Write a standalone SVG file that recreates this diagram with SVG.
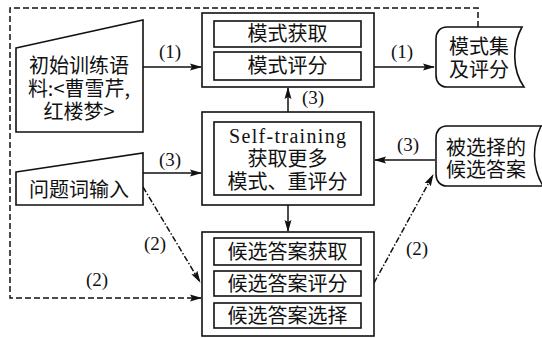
<svg xmlns="http://www.w3.org/2000/svg" width="542" height="338" viewBox="0 0 542 338">
<defs>
<marker id="ah" markerUnits="userSpaceOnUse" markerWidth="12" markerHeight="8" refX="11" refY="4" orient="auto">
<path d="M0,0.5 L12,4 L0,7.5 L2,4 Z" fill="#111"/>
</marker>
<style>
.box{fill:#fff;stroke:#111;stroke-width:1.6}
.cjk{font-family:"Noto Sans CJK SC","Noto Sans",sans-serif;font-size:20px;fill:#111;text-anchor:middle}
.lbl{font-family:"Liberation Serif",serif;font-size:19px;fill:#111;text-anchor:middle}
.ln{fill:none;stroke:#111;stroke-width:1.5}
.dash{fill:none;stroke:#111;stroke-width:1.5;stroke-dasharray:6 3}
.dd{fill:none;stroke:#111;stroke-width:1.5;stroke-dasharray:6 2 1.5 2}
</style>
</defs>
<rect width="542" height="338" fill="#fff"/>
<g id="connectors">
<path class="dash" d="M478,27 V8 H10 V298 H201" marker-end="url(#ah)"/>
<path class="ln" d="M143,67 H201" marker-end="url(#ah)"/>
<path class="ln" d="M374,67 H434" marker-end="url(#ah)"/>
<path class="ln" d="M143,173 H201" marker-end="url(#ah)"/>
<path class="ln" d="M288,112 V88" marker-end="url(#ah)"/>
<path class="ln" d="M435,160 H375" marker-end="url(#ah)"/>
<path class="ln" d="M288,205 V231" marker-end="url(#ah)"/>
<path class="dd" d="M143,187 L200,282" marker-end="url(#ah)"/>
<path class="dd" d="M374,283 L433,175" marker-end="url(#ah)"/>
<text class="lbl" x="170" y="58">(1)</text>
<text class="lbl" x="402" y="58">(1)</text>
<text class="lbl" x="170" y="166">(3)</text>
<text class="lbl" x="313" y="104">(3)</text>
<text class="lbl" x="408" y="151">(3)</text>
<text class="lbl" x="155" y="250">(2)</text>
<text class="lbl" x="97" y="286">(2)</text>
<text class="lbl" x="417" y="255">(2)</text>
</g>
<g id="corpus">
<path class="box" d="M16,48 L143,20 V132 H16 Z"/>
<text class="cjk" x="79" y="73">初始训练语</text>
<text class="cjk" x="79" y="96">料:&lt;曹雪芹,</text>
<text class="cjk" x="79" y="119">红楼梦&gt;</text>
</g>
<g id="question">
<path class="box" d="M16,172 L143,153 V205 H16 Z"/>
<text class="cjk" x="79" y="197">问题词输入</text>
</g>
<g id="pattern">
<rect class="box" x="202" y="13" width="172" height="74"/>
<rect class="box" x="214" y="21" width="147" height="26"/>
<rect class="box" x="214" y="52" width="147" height="28"/>
<text class="cjk" x="287.5" y="41">模式获取</text>
<text class="cjk" x="287.5" y="73">模式评分</text>
</g>
<g id="selftrain">
<rect class="box" x="202" y="112" width="172" height="93"/>
<rect class="box" x="214" y="122" width="147" height="73"/>
<text x="287.5" y="143" font-family="Liberation Serif,serif" font-size="20" fill="#111" text-anchor="middle" textLength="117" lengthAdjust="spacing">Self-training</text>
<text class="cjk" x="287.5" y="166">获取更多</text>
<text class="cjk" x="287.5" y="189">模式、重评分</text>
</g>
<g id="candidate">
<rect class="box" x="202" y="232" width="172" height="104"/>
<rect class="box" x="214" y="238" width="147" height="27"/>
<rect class="box" x="214" y="271" width="147" height="25"/>
<rect class="box" x="214" y="303" width="147" height="25"/>
<text class="cjk" x="287.5" y="259">候选答案获取</text>
<text class="cjk" x="287.5" y="291">候选答案评分</text>
<text class="cjk" x="287.5" y="323">候选答案选择</text>
</g>
<g id="patternset">
<path class="box" d="M447,27 H522 C512,45 512,70 524,87 H447 C440,87 436,82 436,75 V39 C436,32 440,27 447,27 Z"/>
<text class="cjk" x="479" y="54">模式集</text>
<text class="cjk" x="479" y="77">及评分</text>
</g>
<g id="selected">
<path class="box" d="M447,126 H545 V186 H447 C440,186 436,181 436,174 V138 C436,131 440,126 447,126 Z"/>
<path class="ln" d="M541,126 C532,145 532,168 543,186"/>
<text class="cjk" x="486" y="155">被选择的</text>
<text class="cjk" x="486" y="177">候选答案</text>
</g>
</svg>
